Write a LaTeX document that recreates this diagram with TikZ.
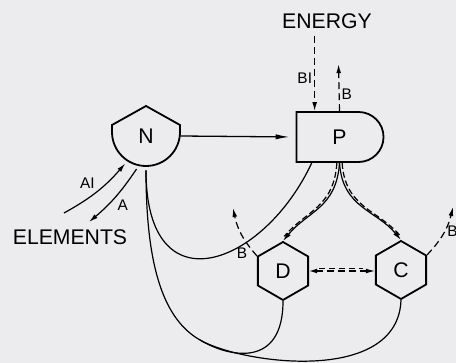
\documentclass[tikz,border=0pt]{standalone}
\usepackage{fontspec}
\setmainfont{Liberation Sans}
\usetikzlibrary{arrows.meta,positioning,shapes.geometric,shapes.misc,calc}
\definecolor{paper}{RGB}{236,236,238}

\begin{document}
\begin{tikzpicture}[
  x=0.5pt, y=-0.5pt,
  font=\fontsize{10.6}{12}\selectfont,
  lbl/.style={font=\fontsize{7.7}{9}\selectfont, inner sep=1pt},
  box/.style={draw, line width=0.9pt},
  hexa/.style={box, regular polygon, regular polygon sides=6, shape border rotate=90, minimum size=29pt, inner sep=0pt},
  flow/.style={-{Latex[length=7pt,width=2.6pt]}, line width=0.65pt},
  thin flow/.style={-{Latex[length=4.5pt,width=2.4pt]}, line width=0.6pt},
  link/.style={line width=0.6pt},
  dflow/.style={thin flow, dash pattern=on 3.5pt off 2pt}
]
\useasboundingbox[fill=paper] (0,0) rectangle (456,363);

% compartments
\node (N) [circle, minimum size=34pt, inner sep=0pt] at (146,136) {N};
\draw[box] ($(N.center)+(-34,-11)$) -- ($(N.center)+(0,-30)$) -- ($(N.center)+(34,-11)$)
  -- ($(N.center)+(34,-4)$) arc[start angle=0, end angle=180, radius=34] -- cycle;
\node (P) [box, rounded rectangle, rounded rectangle west arc=none, minimum width=43.5pt, minimum height=25pt, inner sep=0pt] at (339.5,137) {P};
\node (D) [hexa] at (283,271) {D};
\node (C) [hexa] at (401,270) {C};
\node (ENERGY) at (327,21) {ENERGY};
\node (ELEM) at (70,237) {ELEMENTS};

% free ends
\coordinate (Pin) at ($(P.north west)+(19,0)$);
\coordinate (Pout) at ($(P.north)+(-1,-47)$);
\coordinate (ein) at (64,213);
\coordinate (eout) at (89,222);
\coordinate (dB) at (233,208);
\coordinate (cB) at (453,207);
\coordinate (fork) at (200,340);

% energy
\draw[dflow] (ENERGY.south -| Pin) -- node[lbl, left, pos=0.56] {BI} (Pin);
\draw[dflow] (P.north) -- node[lbl, right, pos=0.36] {B} (Pout);

% elements
\draw[thin flow] (ein) to[bend right=10] node[lbl, above left] {AI} (N.233);
\draw[thin flow] (N.254) to[bend left=8] node[lbl, below right] {A} (eout);

% N -> P
\draw[flow, shorten >=3pt] (N.east) -- (P.west);

% returns to N
\draw[link] (N.south) .. controls +(0,140) and +(-48,103) .. (P.223);
\draw[link] (N.south) .. controls +(0,100) and (165,320) .. (fork)
  .. controls (230,358) and (283,368) .. (D.south);
\draw[link] (fork) .. controls (242,364) and (398,385) .. (C.south);

% P -> D, P -> C
\draw[thin flow] (P.south) .. controls +(-3,45) and +(25,-30) .. (D.north);
\draw[link, dash pattern=on 3pt off 1.5pt, transform canvas={xshift=-1.3pt}, shorten >=3pt] (P.south) .. controls +(-3,45) and +(25,-30) .. (D.north);
\draw[thin flow] (P.south) .. controls +(3,45) and +(-25,-30) .. (C.north);
\draw[link, dash pattern=on 3pt off 1.5pt, transform canvas={xshift=1.3pt}, shorten >=3pt] (P.south) .. controls +(3,45) and +(-25,-30) .. (C.north);

% D <-> C
\draw[dflow, {Latex[length=4pt,width=2.4pt]}-{Latex[length=4.5pt,width=2.4pt]}] (D.east) -- (D.east -| C.west);
\draw[link, dash pattern=on 3pt off 2pt, transform canvas={yshift=1.2pt}, shorten <=5pt, shorten >=6pt] (D.east) -- (D.east -| C.west);

% respiration
\draw[dflow] (D.150) to[bend left=15] (dB);
\node[lbl] at (242,253) {B};
\draw[dflow] (C.30) to[bend right=15] node[lbl, right, pos=0.55] {B} (cB);
\end{tikzpicture}
\end{document}
